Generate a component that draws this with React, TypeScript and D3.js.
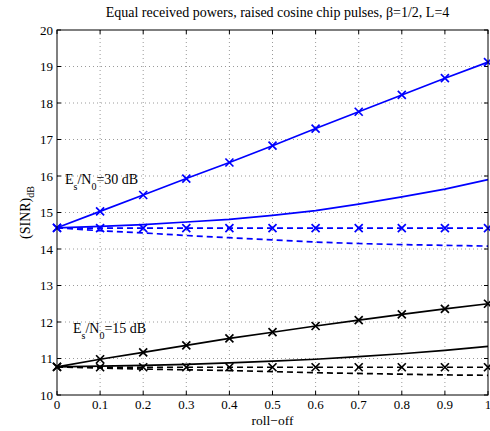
import React from "react";
import * as d3 from "d3";

const rollOff = [0, 0.1, 0.2, 0.3, 0.4, 0.5, 0.6, 0.7, 0.8, 0.9, 1];
const xTicks = [0, 0.1, 0.2, 0.3, 0.4, 0.5, 0.6, 0.7, 0.8, 0.9, 1];
const yTicks = [10, 11, 12, 13, 14, 15, 16, 17, 18, 19, 20];

// Es/N0 = 30 dB (blue)
const blueSolidMarked = [14.58, 15.03, 15.48, 15.93, 16.37, 16.83, 17.3, 17.76, 18.22, 18.68, 19.12];
const blueSolid = [14.58, 14.62, 14.67, 14.74, 14.81, 14.92, 15.05, 15.23, 15.43, 15.64, 15.9];
const blueDashedMarked = [14.58, 14.57, 14.57, 14.57, 14.57, 14.57, 14.57, 14.57, 14.57, 14.57, 14.57];
const blueDashed = [14.58, 14.5, 14.44, 14.37, 14.31, 14.25, 14.19, 14.15, 14.12, 14.1, 14.08];

// Es/N0 = 15 dB (black)
const blackSolidMarked = [10.77, 10.98, 11.17, 11.36, 11.55, 11.72, 11.89, 12.05, 12.21, 12.36, 12.5];
const blackSolid = [10.77, 10.79, 10.81, 10.84, 10.88, 10.93, 10.98, 11.05, 11.13, 11.22, 11.33];
const blackDashedMarked = [10.77, 10.76, 10.76, 10.76, 10.76, 10.76, 10.76, 10.76, 10.76, 10.76, 10.76];
const blackDashed = [10.77, 10.74, 10.71, 10.69, 10.67, 10.64, 10.61, 10.59, 10.57, 10.55, 10.54];

const series = [
  { values: blueSolidMarked, color: "#0000ff", dashed: false, marker: true },
  { values: blueSolid, color: "#0000ff", dashed: false, marker: false },
  { values: blueDashedMarked, color: "#0000ff", dashed: true, marker: true },
  { values: blueDashed, color: "#0000ff", dashed: true, marker: false },
  { values: blackSolidMarked, color: "#000000", dashed: false, marker: true },
  { values: blackSolid, color: "#000000", dashed: false, marker: false },
  { values: blackDashedMarked, color: "#000000", dashed: true, marker: true },
  { values: blackDashed, color: "#000000", dashed: true, marker: false },
];

const W = 490;
const H = 431;
const left = 57;
const right = 488;
const top = 30;
const bottom = 395;
const font = "'Liberation Serif', 'Times New Roman', serif";

export default function App() {
  const x = d3.scaleLinear().domain([0, 1]).range([left, right]);
  const y = d3.scaleLinear().domain([10, 20]).range([bottom, top]);

  const line = d3
    .line<number>()
    .x((_, i) => x(rollOff[i]))
    .y((d) => y(d));

  const m = 4;

  return (
    <svg
      width={W}
      height={H}
      style={{ position: "absolute", left: 0, top: 0, background: "#fff" }}
      fontFamily={font}
    >
      <rect x={0} y={0} width={W} height={H} fill="#fff" />
      {/* grid */}
      {xTicks.slice(1, -1).map((t) => (
        <line key={"gx" + t} x1={x(t)} x2={x(t)} y1={top} y2={bottom} stroke="#808080" strokeWidth={0.8} strokeDasharray="1,3" />
      ))}
      {yTicks.slice(1, -1).map((t) => (
        <line key={"gy" + t} x1={left} x2={right} y1={y(t)} y2={y(t)} stroke="#808080" strokeWidth={0.8} strokeDasharray="1,3" />
      ))}
      {/* ticks */}
      {xTicks.map((t) => (
        <g key={"tx" + t}>
          <line x1={x(t)} x2={x(t)} y1={bottom} y2={bottom - 4} stroke="#000" />
          <line x1={x(t)} x2={x(t)} y1={top} y2={top + 4} stroke="#000" />
          <text x={x(t)} y={bottom + 14} textAnchor="middle" fontSize={13}>
            {t === 0 || t === 1 ? String(t) : t.toFixed(1)}
          </text>
        </g>
      ))}
      {yTicks.map((t) => (
        <g key={"ty" + t}>
          <line x1={left} x2={left + 4} y1={y(t)} y2={y(t)} stroke="#000" />
          <line x1={right} x2={right - 4} y1={y(t)} y2={y(t)} stroke="#000" />
          <text x={left - 4} y={y(t) + 4.5} textAnchor="end" fontSize={13}>
            {t}
          </text>
        </g>
      ))}
      {/* series */}
      {series.map((s, i) => (
        <g key={"s" + i}>
          <path
            d={line(s.values) || ""}
            fill="none"
            stroke={s.color}
            strokeWidth={1.7}
            strokeDasharray={s.dashed ? "6,4" : undefined}
          />
          {s.marker &&
            s.values.map((v, j) => (
              <path
                key={j}
                d={`M${x(rollOff[j]) - m},${y(v) - m}L${x(rollOff[j]) + m},${y(v) + m}M${x(rollOff[j]) - m},${y(v) + m}L${x(rollOff[j]) + m},${y(v) - m}`}
                stroke={s.color}
                strokeWidth={1.7}
              />
            ))}
        </g>
      ))}
      {/* box */}
      <rect x={left} y={top} width={right - left} height={bottom - top} fill="none" stroke="#000" strokeWidth={1} />
      {/* title */}
      <text x={(left + right) / 2 + 5} y={17} textAnchor="middle" fontSize={14}>
        Equal received powers, raised cosine chip pulses, β=1/2, L=4
      </text>
      {/* axis labels */}
      <text x={(left + right) / 2} y={425} textAnchor="middle" fontSize={13.5}>
        roll−off
      </text>
      <text transform={`translate(30,${(top + bottom) / 2}) rotate(-90)`} textAnchor="middle" fontSize={14}>
        (SINR)<tspan fontSize={10} dy={4}>dB</tspan>
      </text>
      {/* annotations */}
      <text x={65} y={184} fontSize={14}>
        E<tspan fontSize={10} dy={6}>s</tspan>
        <tspan dy={-6}>/N</tspan>
        <tspan fontSize={10} dy={6}>0</tspan>
        <tspan dy={-6}>=30 dB</tspan>
      </text>
      <text x={73} y={333} fontSize={14}>
        E<tspan fontSize={10} dy={6}>s</tspan>
        <tspan dy={-6}>/N</tspan>
        <tspan fontSize={10} dy={6}>0</tspan>
        <tspan dy={-6}>=15 dB</tspan>
      </text>
    </svg>
  );
}
